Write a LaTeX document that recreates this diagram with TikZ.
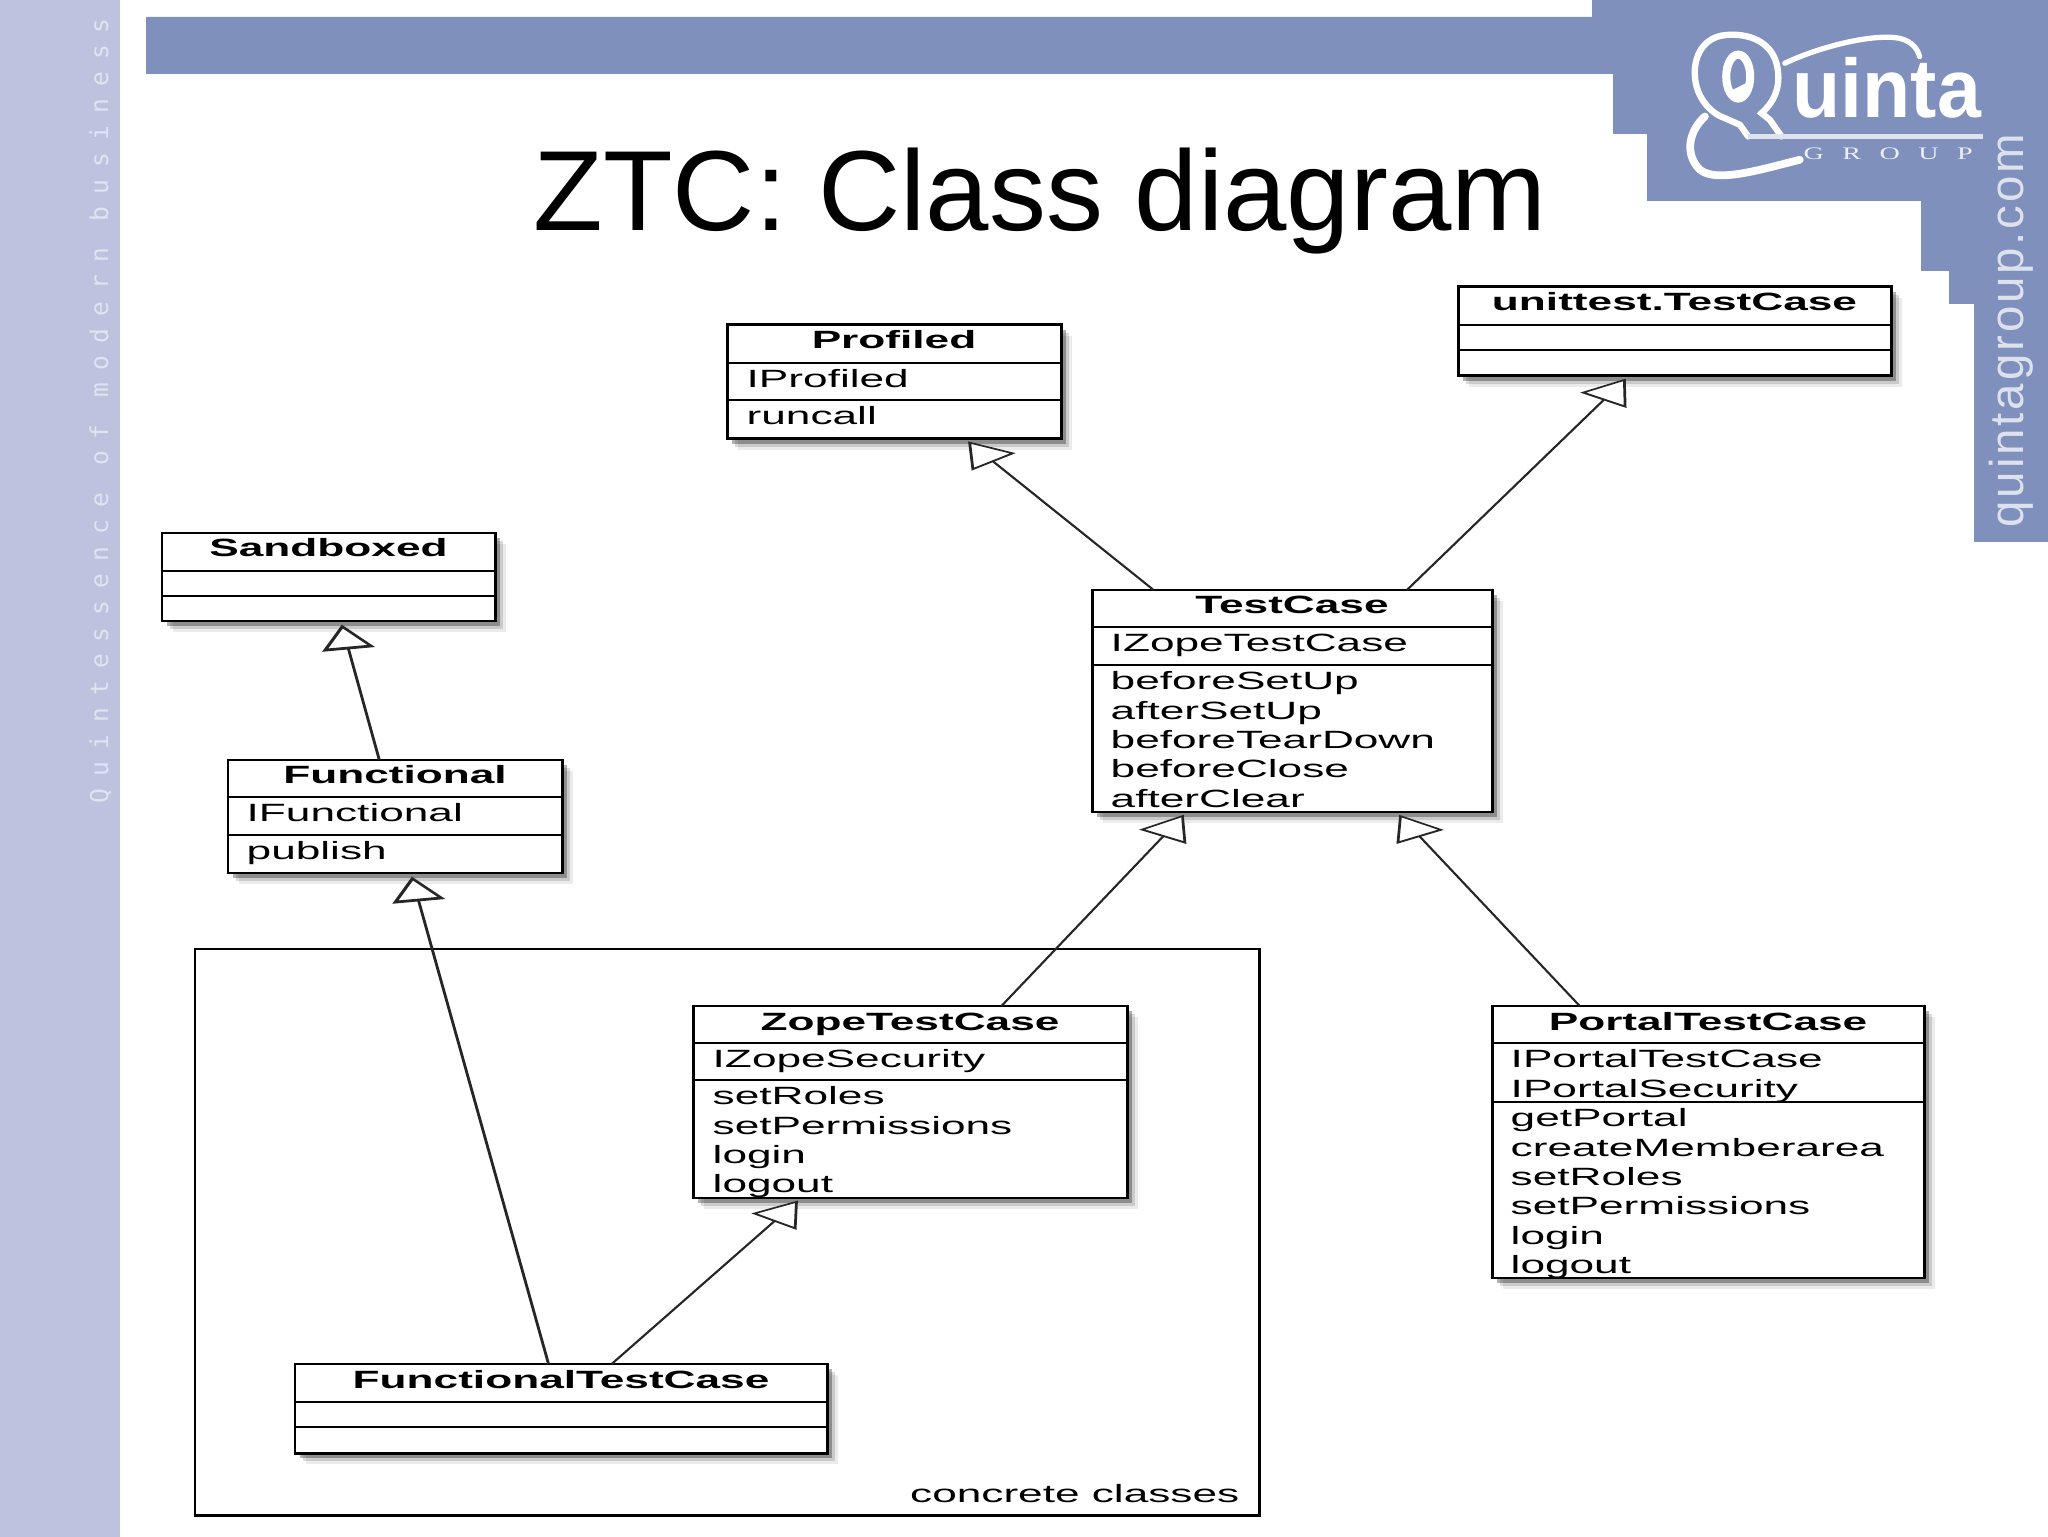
\documentclass[tikz,border=0pt]{standalone}
\usepackage{fontspec}
\setmainfont{Liberation Sans}
\newfontfamily\umlfont[FakeStretch=1.77]{Liberation Sans}
\newfontfamily\logofont[FakeStretch=0.95]{Liberation Sans}
\newfontfamily\groupfont[FakeStretch=1.6,LetterSpace=105]{Liberation Serif}
\newfontfamily\urlfont[LetterSpace=6]{Liberation Sans}
\newfontfamily\stripfont[LetterSpace=49]{DejaVu Sans Mono}
\usetikzlibrary{arrows.meta,fit,shadows}
\definecolor{banner}{HTML}{7F90BC}
\definecolor{strip}{HTML}{BDC3DE}
\definecolor{striptext}{HTML}{E0E3F0}
\definecolor{urltext}{HTML}{DDE1EE}
\begin{document}
\begin{tikzpicture}[x=0.01cm, y=-0.01cm,
    classbox/.style={draw, fill=white, line width=0.85pt, inner sep=0pt, outer sep=0pt,
      drop shadow={shadow xshift=1.1mm, shadow yshift=-1.1mm, fill=black, opacity=0.08},
      drop shadow={shadow xshift=0.8mm, shadow yshift=-0.8mm, fill=black, opacity=0.14},
      drop shadow={shadow xshift=0.5mm, shadow yshift=-0.5mm, fill=black, opacity=0.3}},
    divider/.style={line width=0.5pt},
    classtitle/.style={anchor=base, inner sep=0pt, font=\umlfont\bfseries\fontsize{7.1}{8.35}\selectfont},
    member/.style={anchor=north west, inner sep=0pt, align=left, font=\umlfont\fontsize{7.1}{8.35}\selectfont},
    extends/.style n args={3}{-{Triangle[open,length=#1mm,width=#2mm,slant=#3,fill=white]},
      line width=0.6pt, shorten >=1.1pt, black!85},
    logoline/.style={white, line width=1.8pt, line cap=round}]
\useasboundingbox (0,0) rectangle (2048,1537);
% slide frame
\fill[strip] (0,0) rectangle (120,1537);
\fill[banner] (146,17) -- (1592,17) -- (1592,0) -- (2048,0) -- (2048,542) -- (1974,542)
  -- (1974,304) -- (1949,304) -- (1949,271) -- (1921,271) -- (1921,201) -- (1647,201)
  -- (1647,134) -- (1613,134) -- (1613,74) -- (146,74) -- cycle;
\node[rotate=90, anchor=base west, inner sep=0pt, text=striptext, font=\stripfont\fontsize{7}{8}\selectfont]
  (stripname) at (108,804) {Quintessence of modern business};
\node[rotate=90, anchor=base west, inner sep=0pt, text=urltext, font=\urlfont\fontsize{13.5}{16}\selectfont]
  (urlname) at (2023,528) {quintagroup.com};
% logo
\begin{scope}[shift={(1660,20)}, x=0.00333cm, y=-0.00333cm]
\draw[logoline] (365,350) -- (330,300) -- (305,280) .. controls (350,240) and (365,190) .. (350,130)
  .. controls (330,60) and (260,40) .. (200,45) .. controls (130,50) and (100,110) .. (105,170)
  .. controls (108,230) and (150,280) .. (195,295) -- (240,315) -- (265,350);
\draw[logoline, line width=2.2pt] (135,290) .. controls (90,330) and (70,400) .. (120,450)
  .. controls (170,490) and (300,450) .. (420,420);
\draw[logoline, line width=1.5pt] (375,130) .. controls (480,80) and (640,40) .. (720,55)
  .. controls (760,65) and (775,90) .. (780,110);
\draw[white!75!banner, line width=1.2pt] (265,350) -- (970,350);
\draw[white, line width=2.3pt] (235,170) ellipse (36 and 66);
\fill[white] (208,215) -- (268,185) -- (262,225) -- (235,240) -- cycle;
\end{scope}
\node[anchor=base west, inner sep=0pt, text=white, font=\logofont\bfseries\fontsize{23.6}{26}\selectfont]
  (logoname) at (1792,118) {uinta};
\node[anchor=base west, inner sep=0pt, text=white!85!banner, font=\groupfont\fontsize{5}{6}\selectfont]
  (logogroup) at (1803,160) {GROUP};
% title
\node[anchor=base, inner sep=0pt, font=\fontsize{32.4}{38}\selectfont] (title) at (1040,231) {ZTC: Class diagram};
% concrete classes frame
\node[draw, line width=0.85pt, inner sep=0pt, outer sep=0pt, fit={(195,949) (1259,1515)}] (concrete) {};
\node[classtitle, anchor=base east, font=\umlfont\fontsize{7.1}{8.35}\selectfont] (concretelabel) at (1240,1502) {concrete classes};
% Profiled
\node[classbox, fit={(727,325) (1061,439)}] (profiled) {};
\draw[divider] (profiled.west |- 0,363) -- (profiled.east |- 0,363);
\draw[divider] (profiled.west |- 0,400) -- (profiled.east |- 0,400);
\node[classtitle] (profiledname) at (profiled.north |- 0,349) {Profiled};
\node[member] (profiledif) at (746,369) {IProfiled};
\node[member] (profiledops) at (746,406) {runcall};
% unittest.TestCase
\node[classbox, fit={(1458,287) (1891,376)}] (unittest) {};
\draw[divider] (unittest.west |- 0,325) -- (unittest.east |- 0,325);
\draw[divider] (unittest.west |- 0,350) -- (unittest.east |- 0,350);
\node[classtitle] (unittestname) at (unittest.north |- 0,311) {unittest.TestCase};
% Sandboxed
\node[classbox, fit={(162,533) (495,621)}] (sandboxed) {};
\draw[divider] (sandboxed.west |- 0,571) -- (sandboxed.east |- 0,571);
\draw[divider] (sandboxed.west |- 0,596) -- (sandboxed.east |- 0,596);
\node[classtitle] (sandboxedname) at (sandboxed.north |- 0,557) {Sandboxed};
% Functional
\node[classbox, fit={(228,760) (562,873)}] (functional) {};
\draw[divider] (functional.west |- 0,797) -- (functional.east |- 0,797);
\draw[divider] (functional.west |- 0,835) -- (functional.east |- 0,835);
\node[classtitle] (functionalname) at (functional.north |- 0,784) {Functional};
\node[member] (functionalif) at (246,803) {IFunctional};
\node[member] (functionalops) at (246,841) {publish};
% TestCase
\node[classbox, fit={(1092,590) (1492,812)}] (testcase) {};
\draw[divider] (testcase.west |- 0,627) -- (testcase.east |- 0,627);
\draw[divider] (testcase.west |- 0,665) -- (testcase.east |- 0,665);
\node[classtitle] (testcasename) at (testcase.north |- 0,614) {TestCase};
\node[member] (testcaseif) at (1110,633) {IZopeTestCase};
\node[member] (testcaseops) at (1110,671) {beforeSetUp\\afterSetUp\\beforeTearDown\\beforeClose\\afterClear};
% ZopeTestCase
\node[classbox, fit={(693,1006) (1127,1198)}] (zope) {};
\draw[divider] (zope.west |- 0,1043) -- (zope.east |- 0,1043);
\draw[divider] (zope.west |- 0,1080) -- (zope.east |- 0,1080);
\node[classtitle] (zopename) at (zope.north |- 0,1030) {ZopeTestCase};
\node[member] (zopeif) at (712,1049) {IZopeSecurity};
\node[member] (zopeops) at (712,1086) {setRoles\\setPermissions\\login\\logout};
% PortalTestCase
\node[classbox, fit={(1492,1006) (1924,1278)}] (portal) {};
\draw[divider] (portal.west |- 0,1043) -- (portal.east |- 0,1043);
\draw[divider] (portal.west |- 0,1102) -- (portal.east |- 0,1102);
\node[classtitle] (portalname) at (portal.north |- 0,1030) {PortalTestCase};
\node[member] (portalif) at (1510,1049) {IPortalTestCase\\IPortalSecurity};
\node[member] (portalops) at (1510,1108) {getPortal\\createMemberarea\\setRoles\\setPermissions\\login\\logout};
% FunctionalTestCase
\node[classbox, fit={(295,1364) (827,1453)}] (functest) {};
\draw[divider] (functest.west |- 0,1402) -- (functest.east |- 0,1402);
\draw[divider] (functest.west |- 0,1427) -- (functest.east |- 0,1427);
\node[classtitle] (functestname) at (functest.north |- 0,1388) {FunctionalTestCase};
% inheritance
\draw[extends={3.27}{4.06}{0.569}] (testcase) -- (profiled);
\draw[extends={3.11}{4.28}{-0.523}] (testcase) -- (unittest);
\draw[extends={2.56}{5.18}{0.184}, line width=0.8pt] (functional) -- (sandboxed);
\draw[extends={2.56}{5.18}{0.186}, line width=0.8pt] (functest) -- (functional);
\draw[extends={3.19}{4.16}{-0.548}] (functest) -- (zope);
\draw[extends={3.04}{4.36}{-0.505}] (zope) -- (testcase);
\draw[extends={3.04}{4.36}{0.505}] (portal) -- (testcase);
\end{tikzpicture}
\end{document}
